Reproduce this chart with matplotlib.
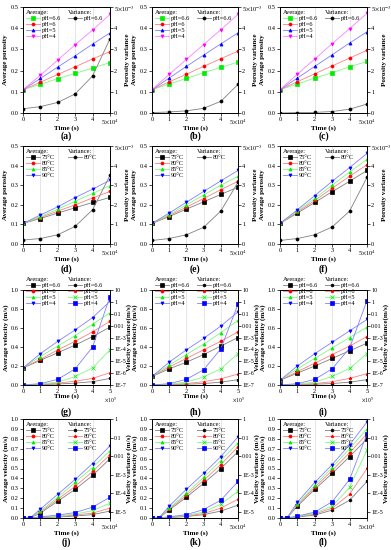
import numpy as np
import matplotlib.pyplot as plt
from matplotlib.lines import Line2D
from matplotlib.colors import to_rgb
from matplotlib.ticker import NullLocator

plt.rcParams['font.family'] = ['Liberation Serif', 'DejaVu Serif']
plt.rcParams['mathtext.fontset'] = 'stix'

# ---- data ----
t_por = [0, 1, 2, 3, 4, 5]
t_vel = [0, 1, 2, 3, 4, 5]
t_vt = [0, 0.4, 1, 2, 3, 4, 5]

ph_labels = ['pH=6.6', 'pH=6', 'pH=5', 'pH=4']
temp_labels = ['75°C', '80°C', '85°C', '90°C']

# average porosity, pH series (a-c)
por_a = [[0.11, 0.135, 0.162, 0.187, 0.212, 0.238],
         [0.11, 0.145, 0.182, 0.218, 0.255, 0.290],
         [0.11, 0.163, 0.217, 0.270, 0.325, 0.378],
         [0.11, 0.178, 0.250, 0.322, 0.392, 0.465]]
por_b = [[0.11, 0.137, 0.163, 0.190, 0.215, 0.240],
         [0.11, 0.147, 0.183, 0.220, 0.256, 0.292],
         [0.11, 0.165, 0.220, 0.273, 0.326, 0.378],
         [0.11, 0.182, 0.253, 0.323, 0.393, 0.465]]
por_c = [[0.11, 0.137, 0.165, 0.190, 0.218, 0.243],
         [0.11, 0.148, 0.185, 0.222, 0.259, 0.296],
         [0.11, 0.165, 0.220, 0.275, 0.330, 0.383],
         [0.11, 0.183, 0.255, 0.327, 0.398, 0.470]]
# porosity variance (x1e-3)
pvar_a = [0.2, 0.3, 0.5, 0.9, 1.75, 3.5]
pvar_b = [0.02, 0.05, 0.1, 0.22, 0.55, 1.35]
pvar_c = [0.0, 0.02, 0.03, 0.07, 0.18, 0.42]

# average porosity, temperature series (d-f)
por_d = [[0.105, 0.130, 0.158, 0.185, 0.212, 0.238],
         [0.105, 0.135, 0.168, 0.200, 0.235, 0.268],
         [0.105, 0.140, 0.178, 0.218, 0.258, 0.298],
         [0.105, 0.148, 0.190, 0.237, 0.280, 0.325]]
por_e = [[0.105, 0.140, 0.178, 0.215, 0.253, 0.290],
         [0.105, 0.145, 0.188, 0.232, 0.277, 0.320],
         [0.105, 0.150, 0.200, 0.250, 0.300, 0.345],
         [0.105, 0.158, 0.213, 0.268, 0.322, 0.375]]
por_f = [[0.105, 0.158, 0.212, 0.267, 0.320, 0.375],
         [0.105, 0.163, 0.222, 0.285, 0.345, 0.405],
         [0.105, 0.168, 0.233, 0.300, 0.367, 0.432],
         [0.105, 0.175, 0.247, 0.320, 0.390, 0.462]]
pvar_d = [0.2, 0.28, 0.47, 0.9, 1.75, 3.5]
pvar_e = [0.18, 0.28, 0.47, 0.85, 1.68, 3.15]
pvar_f = [0.18, 0.28, 0.47, 0.87, 1.68, 3.4]

# average velocity, pH series (g-i)
vel_g = [[0.18, 0.26, 0.34, 0.42, 0.51, 0.61],
         [0.18, 0.27, 0.37, 0.46, 0.56, 0.67],
         [0.18, 0.30, 0.41, 0.52, 0.64, 0.76],
         [0.18, 0.33, 0.46, 0.58, 0.71, 0.88]]
vel_h = [[0.09, 0.17, 0.24, 0.32, 0.41, 0.50],
         [0.09, 0.19, 0.28, 0.37, 0.46, 0.56],
         [0.09, 0.21, 0.32, 0.43, 0.55, 0.68],
         [0.09, 0.24, 0.37, 0.49, 0.62, 0.77]]
vel_i = [[0.05, 0.125, 0.20, 0.28, 0.36, 0.44],
         [0.05, 0.14, 0.23, 0.32, 0.41, 0.51],
         [0.05, 0.17, 0.28, 0.39, 0.50, 0.61],
         [0.05, 0.20, 0.33, 0.45, 0.57, 0.69]]
# velocity variance (m/s), log axis
vvar_g = [[1.0e-7, 1.06e-7, 1.2e-7, 1.45e-7, 1.9e-7, 3.6e-7],
          [1.0e-7, 1.1e-7, 1.45e-7, 2.1e-7, 3.6e-7, 1.1e-6],
          [1.0e-7, 1.2e-7, 1.75e-7, 5.2e-7, 2.75e-6, 9.1e-5],
          [1.0e-7, 1.3e-7, 3.0e-7, 2.3e-6, 1.6e-4, 2.8]]
vvar_h = [[1.0e-7, 1.06e-7, 1.16e-7, 1.32e-7, 1.74e-7, 2.8e-7],
          [1.0e-7, 1.1e-7, 1.32e-7, 1.9e-7, 3.3e-7, 8.4e-7],
          [1.0e-7, 1.2e-7, 1.75e-7, 4.8e-7, 2.3e-6, 4.4e-5],
          [1.0e-7, 1.3e-7, 3.0e-7, 1.9e-6, 1.1e-4, 6.3e-1]]
vvar_i = [[1.0e-7, 1.06e-7, 1.16e-7, 1.32e-7, 1.74e-7, 2.8e-7],
          [1.0e-7, 1.1e-7, 1.32e-7, 1.9e-7, 3.6e-7, 9.1e-7],
          [1.0e-7, 1.2e-7, 1.75e-7, 5.2e-7, 2.5e-6, 4.4e-5],
          [1.0e-7, 1.3e-7, 3.0e-7, 2.3e-6, 1.3e-4, 1.3]]

# average velocity, temperature series (j-l)
vel_j = [[0, 0, 0.05, 0.17, 0.29, 0.43, 0.60],
         [0, 0, 0.06, 0.19, 0.32, 0.47, 0.64],
         [0, 0, 0.07, 0.21, 0.36, 0.51, 0.68],
         [0, 0, 0.09, 0.24, 0.39, 0.55, 0.73]]
vel_k = [[0, 0, 0.08, 0.21, 0.35, 0.50, 0.67],
         [0, 0, 0.09, 0.23, 0.38, 0.54, 0.72],
         [0, 0, 0.10, 0.25, 0.41, 0.58, 0.76],
         [0, 0, 0.12, 0.29, 0.45, 0.62, 0.82]]
vel_l = [[0, 0, 0.12, 0.29, 0.45, 0.62, 0.80],
         [0, 0, 0.13, 0.31, 0.48, 0.66, 0.85],
         [0, 0, 0.14, 0.33, 0.51, 0.70, 0.90],
         [0, 0, 0.16, 0.36, 0.54, 0.74, 0.97]]
vvar_j = [[4.8e-6, 4.8e-6, 5.1e-6, 5.4e-6, 6.1e-6, 7.3e-6, 1.13e-5],
          [4.8e-6, 4.8e-6, 5.3e-6, 5.75e-6, 6.9e-6, 8.8e-6, 1.63e-5],
          [4.8e-6, 4.8e-6, 5.4e-6, 6.1e-6, 7.8e-6, 1.2e-5, 3.0e-5],
          [4.8e-6, 4.8e-6, 5.55e-6, 6.9e-6, 9.4e-6, 1.84e-5, 6.3e-5]]
vvar_k = [[4.8e-6, 4.8e-6, 5.1e-6, 5.75e-6, 7.3e-6, 1.13e-5, 2.36e-5],
          [4.8e-6, 4.8e-6, 5.3e-6, 6.1e-6, 8.3e-6, 1.63e-5, 4.9e-5],
          [4.8e-6, 4.8e-6, 5.4e-6, 6.5e-6, 1.0e-5, 2.66e-5, 1.3e-4],
          [4.8e-6, 4.8e-6, 5.55e-6, 7.3e-6, 1.36e-5, 4.35e-5, 4.4e-4]]
vvar_l = [[4.8e-6, 4.8e-6, 5.4e-6, 6.9e-6, 1.28e-5, 4.35e-5, 4.4e-4],
          [4.8e-6, 4.8e-6, 5.55e-6, 7.8e-6, 1.63e-5, 9.1e-5, 2.2e-3],
          [4.8e-6, 4.8e-6, 5.75e-6, 8.8e-6, 2.08e-5, 2.1e-4, 2.2e-2],
          [4.8e-6, 4.8e-6, 6.1e-6, 1.0e-5, 3.6e-5, 5.7e-4, 1.6e-1]]

# ---- styling ----
C_PH_POR = ['#00ee00', '#ff0000', '#0000ff', '#ff00ff']
C_4 = ['#000000', '#ff0000', '#00ee00', '#0000ff']
M_AVG = ['s', 'o', '^', 'v']
M_VAR = ['h', '*', 'x', 's']
W, H = 391, 550
COLS = [(23, 110), (152, 238), (280, 367)]
ROWS = [(7, 113), (146, 244), (290, 385), (419, 518)]
TAG_Y = [136, 269, 412, 542]
FS = 4.6
LFS = 5

fig = plt.figure(figsize=(W / 100, H / 100), dpi=100)


def light(c, f=0.5):
    r, g, b = to_rgb(c)
    return (r + (1 - r) * f, g + (1 - g) * f, b + (1 - b) * f)


def make_axes(row, col, tag):
    l, r = COLS[col]
    t, b = ROWS[row]
    ax = fig.add_axes([l / W, 1 - b / H, (r - l) / W, (b - t) / H])
    ax2 = ax.twinx()
    for a in (ax, ax2):
        a.tick_params(direction='out', length=2, width=0.5, labelsize=FS, pad=1)
        for s in a.spines.values():
            s.set_linewidth(0.6)
    ax.grid(axis='x', color='#dcdcdc', lw=0.5)
    ax.set_xlim(0, 5)
    ax.set_xticks([0, 1, 2, 3, 4, 5])
    ax.set_xlabel('Time (s)', fontsize=LFS, fontweight='bold', labelpad=-0.5)
    fig.text((l + r) / 2 / W, 1 - TAG_Y[row] / H, tag, fontsize=7,
             fontweight='bold', ha='center', va='center')
    return ax, ax2


def set_labels(ax, ax2, left, right, lx=-0.17, rx=1.17):
    ax.set_ylabel(left, fontsize=LFS, fontweight='bold')
    ax2.set_ylabel(right, fontsize=LFS, fontweight='bold', rotation=90)
    ax.yaxis.set_label_coords(lx, 0.5)
    ax2.yaxis.set_label_coords(rx, 0.5)


def series(a, x, y, c, m):
    h, = a.plot(x, y, color=light(c), lw=0.6, marker=m, ms=2.2,
                mfc=c, mec=c, mew=0.5)
    return h


def add_legend(ax2, avg_h, avg_l, var_h, var_l, anchor_y):
    blank = Line2D([], [], linestyle='none')
    pad = [blank] * (len(avg_h) - len(var_h))
    hs = [blank] + avg_h + [blank] + var_h + pad
    ls = ['Average:'] + avg_l + ['Variance:'] + var_l + [''] * len(pad)
    leg = ax2.legend(hs, ls, ncol=2, loc='upper left', bbox_to_anchor=(0.0, anchor_y),
                     frameon=False, fontsize=FS, handlelength=2.2, handletextpad=0.3,
                     columnspacing=0.5, labelspacing=0.1, borderaxespad=0.2,
                     borderpad=0.2)
    shift = -(2.2 + 0.3) * FS * fig.dpi / 72
    for txt in leg.get_texts():
        if txt.get_text() in ('Average:', 'Variance:'):
            txt.set_x(shift)


def porosity_panel(row, col, tag, avg, var, labels, colors, var_label):
    ax, ax2 = make_axes(row, col, tag)
    hs = [series(ax, t_por, y, c, m) for y, c, m in zip(avg, colors, M_AVG)]
    hv = series(ax2, t_por, var, '#000000', 'o')
    ax.set_ylim(0, 0.5)
    ax.set_yticks([0, 0.1, 0.2, 0.3, 0.4, 0.5])
    ax.set_yticklabels(['0.0', '0.1', '0.2', '0.3', '0.4', '0.5'])
    ax.set_xticklabels(['0', '1', '2', '3', '4', r'5$\times$10$^4$'])
    ax2.set_ylim(0, 5)
    ax2.set_yticks([0, 1, 2, 3, 4, 5])
    ax2.set_yticklabels(['0', '1', '2', '3', '4', r'5$\times$10$^{-3}$'])
    set_labels(ax, ax2, 'Average porosity', 'Porosity variance')
    add_legend(ax2, hs, labels, [hv], [var_label], 1.0)


def velocity_panel(row, col, tag, x, avg, var, labels):
    ax, ax2 = make_axes(row, col, tag)
    hs = [series(ax, x, y, c, m) for y, c, m in zip(avg, C_4, M_AVG)]
    hv = [series(ax2, x, y, c, m) for y, c, m in zip(var, C_4, M_VAR)]
    ax.set_ylim(0, 1.0)
    ax2.set_yscale('log')
    ax2.tick_params(axis='y', labelsize=4.3)
    if row == 2:
        ax.set_yticks([0, 0.2, 0.4, 0.6, 0.8, 1.0])
        ax.set_yticklabels(['0.0', '0.2', '0.4', '0.6', '0.8', '1.0'])
        ax2.set_ylim(1e-7, 10)
        ax2.set_yticks([1e-7, 1e-6, 1e-5, 1e-4, 1e-3, 1e-2, 1e-1, 1, 10])
        ax2.set_yticklabels(['1E-7', '1E-6', '1E-5', '1E-4', '1E-3', '0.01', '0.1', '1', '10'])
        set_labels(ax, ax2, 'Average velocity (m/s)', 'Velocity variance(m/s)', -0.16, 1.19)
        ax.set_xticklabels(['0', '1', '2', '3', '4', '5'])
        ax.text(1.0, -0.115, r'$\times$10$^5$', transform=ax.transAxes,
                fontsize=4.0, ha='center', va='top')
        add_legend(ax2, hs, labels, hv, labels, 1.17)
    else:
        ticks = [0, 0.1, 0.2, 0.3, 0.4, 0.5, 0.6, 0.7, 0.8, 0.9, 1.0]
        ax.set_yticks(ticks)
        ax.set_yticklabels(['%.1f' % v for v in ticks])
        ax2.set_ylim(4.8e-6, 1)
        ax2.set_yticks([1e-5, 1e-4, 1e-3, 1e-2, 1e-1, 1])
        ax2.set_yticklabels(['1E-5', '1E-4', '1E-3', '0.01', '0.1', '1'])
        set_labels(ax, ax2, 'Average velocity (m/s)', 'Velocity variance (m/s)', -0.16, 1.19)
        ax.set_xticklabels(['0', '1', '2', '3', '4', r'5$\times$10$^4$'])
        add_legend(ax2, hs, labels, hv, labels, 1.0)
    ax2.yaxis.set_minor_locator(NullLocator())


porosity_panel(0, 0, '(a)', por_a, pvar_a, ph_labels, C_PH_POR, 'pH=6.6')
porosity_panel(0, 1, '(b)', por_b, pvar_b, ph_labels, C_PH_POR, 'pH=6.6')
porosity_panel(0, 2, '(c)', por_c, pvar_c, ph_labels, C_PH_POR, 'pH=6.6')
porosity_panel(1, 0, '(d)', por_d, pvar_d, temp_labels, C_4, '80°C')
porosity_panel(1, 1, '(e)', por_e, pvar_e, temp_labels, C_4, '80°C')
porosity_panel(1, 2, '(f)', por_f, pvar_f, temp_labels, C_4, '80°C')
velocity_panel(2, 0, '(g)', t_vel, vel_g, vvar_g, ph_labels)
velocity_panel(2, 1, '(h)', t_vel, vel_h, vvar_h, ph_labels)
velocity_panel(2, 2, '(i)', t_vel, vel_i, vvar_i, ph_labels)
velocity_panel(3, 0, '(j)', t_vt, vel_j, vvar_j, temp_labels)
velocity_panel(3, 1, '(k)', t_vt, vel_k, vvar_k, temp_labels)
velocity_panel(3, 2, '(l)', t_vt, vel_l, vvar_l, temp_labels)

fig.savefig('out.png', dpi=100)
